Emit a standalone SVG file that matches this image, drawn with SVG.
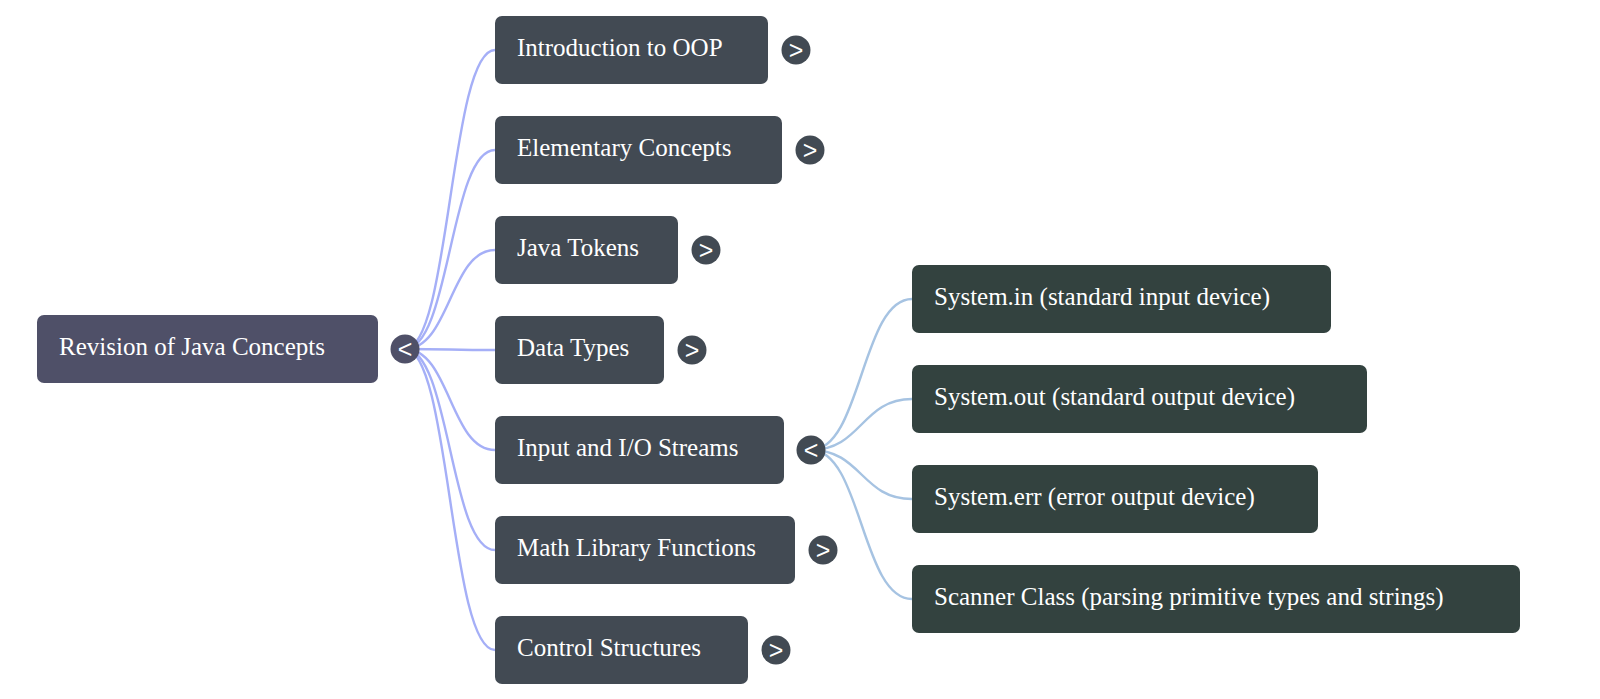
<svg xmlns="http://www.w3.org/2000/svg" width="1600" height="699" viewBox="0 0 1600 699">
<style>
.root rect{fill:#4f5068}
.ch rect{fill:#424a53}
.gc rect{fill:#33423f}
.lbl{font-family:"Liberation Serif","Times New Roman",serif;font-size:25px;fill:#ffffff}
.tg{font-family:"Liberation Sans",Arial,sans-serif;font-size:25px;fill:#ffffff;text-anchor:middle}
.tgc{fill:#424a53}
.l1{fill:none;stroke:#a5aff7;stroke-width:2.4}
.l2{fill:none;stroke:#a6c3e2;stroke-width:2.4}
</style>
<rect width="1600" height="699" fill="#ffffff"/>
<g id="connectors">
<path class="l1" d="M405 349 C450 349 450 50 495 50"/>
<path class="l1" d="M405 349 C450 349 450 150 495 150"/>
<path class="l1" d="M405 349 C450 349 450 250 495 250"/>
<path class="l1" d="M405 349 C450 349 450 350 495 350"/>
<path class="l1" d="M405 349 C450 349 450 450 495 450"/>
<path class="l1" d="M405 349 C450 349 450 550 495 550"/>
<path class="l1" d="M405 349 C450 349 450 650 495 650"/>
<path class="l2" d="M811 450 C861.5 450 861.5 299 912 299"/>
<path class="l2" d="M811 450 C861.5 450 861.5 399 912 399"/>
<path class="l2" d="M811 450 C861.5 450 861.5 499 912 499"/>
<path class="l2" d="M811 450 C861.5 450 861.5 599 912 599"/>
</g>
<g id="root" class="root">
<rect x="37" y="315" width="341" height="68" rx="7"/>
<text class="lbl" x="59" y="355">Revision of Java Concepts</text>
<circle cx="405" cy="349" r="14.5" fill="#4f5068"/>
<text class="tg" x="405" y="358">&lt;</text>
</g>
<g id="n-intro" class="ch">
<rect x="495" y="16" width="273" height="68" rx="7"/>
<text class="lbl" x="517" y="56">Introduction to OOP</text>
<circle class="tgc" cx="796" cy="50" r="14.5"/>
<text class="tg" x="796" y="59">&gt;</text>
</g>
<g id="n-elem" class="ch">
<rect x="495" y="116" width="287" height="68" rx="7"/>
<text class="lbl" x="517" y="156">Elementary Concepts</text>
<circle class="tgc" cx="810" cy="150" r="14.5"/>
<text class="tg" x="810" y="159">&gt;</text>
</g>
<g id="n-tokens" class="ch">
<rect x="495" y="216" width="183" height="68" rx="7"/>
<text class="lbl" x="517" y="256">Java Tokens</text>
<circle class="tgc" cx="706" cy="250" r="14.5"/>
<text class="tg" x="706" y="259">&gt;</text>
</g>
<g id="n-types" class="ch">
<rect x="495" y="316" width="169" height="68" rx="7"/>
<text class="lbl" x="517" y="356">Data Types</text>
<circle class="tgc" cx="692" cy="350" r="14.5"/>
<text class="tg" x="692" y="359">&gt;</text>
</g>
<g id="n-io" class="ch">
<rect x="495" y="416" width="289" height="68" rx="7"/>
<text class="lbl" x="517" y="456">Input and I/O Streams</text>
<circle class="tgc" cx="811" cy="450" r="14.5"/>
<text class="tg" x="811" y="459">&lt;</text>
</g>
<g id="n-math" class="ch">
<rect x="495" y="516" width="300" height="68" rx="7"/>
<text class="lbl" x="517" y="556">Math Library Functions</text>
<circle class="tgc" cx="823" cy="550" r="14.5"/>
<text class="tg" x="823" y="559">&gt;</text>
</g>
<g id="n-control" class="ch">
<rect x="495" y="616" width="253" height="68" rx="7"/>
<text class="lbl" x="517" y="656">Control Structures</text>
<circle class="tgc" cx="776" cy="650" r="14.5"/>
<text class="tg" x="776" y="659">&gt;</text>
</g>
<g id="g-in" class="gc">
<rect x="912" y="265" width="419" height="68" rx="7"/>
<text class="lbl" x="934" y="305">System.in (standard input device)</text>
</g>
<g id="g-out" class="gc">
<rect x="912" y="365" width="455" height="68" rx="7"/>
<text class="lbl" x="934" y="405">System.out (standard output device)</text>
</g>
<g id="g-err" class="gc">
<rect x="912" y="465" width="406" height="68" rx="7"/>
<text class="lbl" x="934" y="505">System.err (error output device)</text>
</g>
<g id="g-scanner" class="gc">
<rect x="912" y="565" width="608" height="68" rx="7"/>
<text class="lbl" x="934" y="605">Scanner Class (parsing primitive types and strings)</text>
</g>
</svg>
